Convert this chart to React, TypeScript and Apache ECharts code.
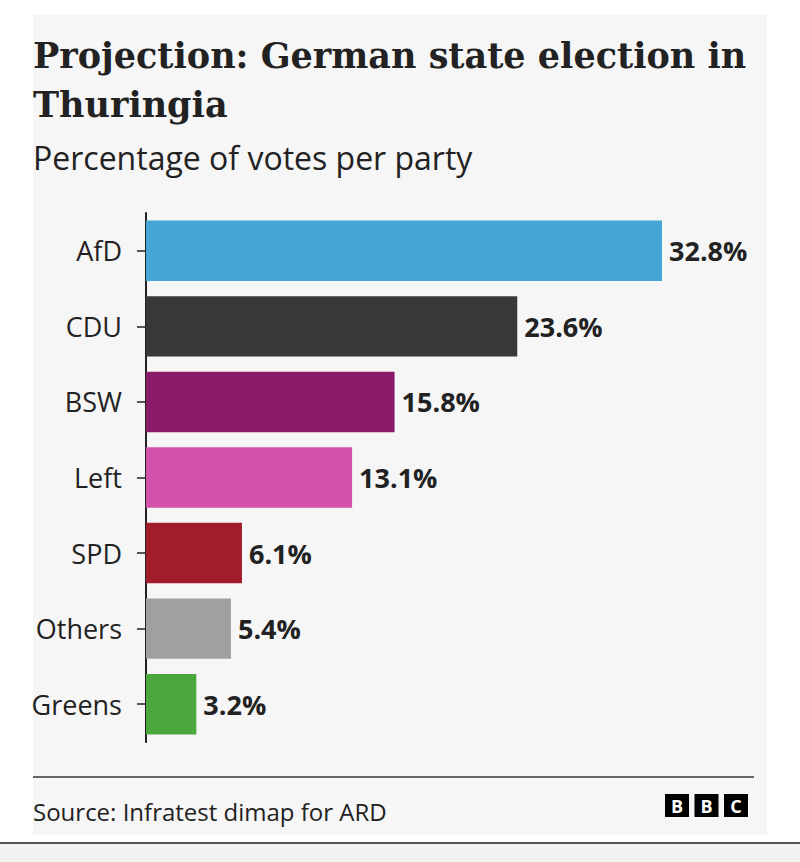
import React, { useEffect, useRef } from "react";
import * as echarts from "echarts";

const parties = ["AfD", "CDU", "BSW", "Left", "SPD", "Others", "Greens"];
const shares = [32.8, 23.6, 15.8, 13.1, 6.1, 5.4, 3.2];
const partyColors = ["#45a5d4", "#383838", "#8b1a6a", "#d253a9", "#a21d2c", "#a0a0a0", "#4aa83c"];

const titleText = "Projection: German state election in\nThuringia";
const subtitleText = "Percentage of votes per party";
const sourceText = "Source: Infratest dimap for ARD";
const logoLetters = ["B", "B", "C"];

const SANS = "'Open Sans', 'Noto Sans', sans-serif";
const SERIF = "'DejaVu Serif', serif";

export default function App() {
  const ref = useRef<HTMLDivElement>(null);
  useEffect(() => {
    if (!ref.current) return;
    const chart = echarts.init(ref.current, null, { renderer: "svg" });
    const logo: any[] = [];
    logoLetters.forEach((l, i) => {
      logo.push({
        type: "rect",
        shape: { x: 665 + i * 29.5, y: 794, width: 24, height: 23 },
        style: { fill: "#000" },
      });
      logo.push({
        type: "text",
        x: 665 + i * 29.5 + 12,
        y: 806,
        style: {
          text: l,
          fill: "#fff",
          font: `bold 18px ${SANS}`,
          textAlign: "center",
          textVerticalAlign: "middle",
        },
      });
    });
    chart.setOption({
      animation: false,
      backgroundColor: "#ffffff",
      title: [
        {
          text: titleText,
          left: 33,
          top: 31,
          padding: 0,
          textStyle: {
            fontFamily: SERIF,
            fontWeight: "bold",
            fontSize: 35,
            lineHeight: 49,
            color: "#222222",
          },
        },
        {
          text: subtitleText,
          left: 33,
          top: 139,
          padding: 0,
          textStyle: {
            fontFamily: SANS,
            fontWeight: "normal",
            fontSize: 32,
            lineHeight: 36,
            color: "#222222",
          },
        },
      ],
      graphic: [
        {
          type: "rect",
          z: -10,
          shape: { x: 33, y: 15, width: 734, height: 820 },
          style: { fill: "#f6f6f6" },
        },
        {
          type: "rect",
          z: -10,
          shape: { x: 0, y: 844, width: 800, height: 18 },
          style: { fill: "#f2f2f2" },
        },
        {
          type: "line",
          shape: { x1: 0, y1: 843, x2: 800, y2: 843 },
          style: { stroke: "#555555", lineWidth: 2 },
        },
        {
          type: "line",
          shape: { x1: 33, y1: 777, x2: 754, y2: 777 },
          style: { stroke: "#666666", lineWidth: 2 },
        },
        {
          type: "text",
          x: 33,
          y: 811,
          style: {
            text: sourceText,
            fill: "#222222",
            font: `24px ${SANS}`,
            textVerticalAlign: "middle",
          },
        },
        ...logo,
      ],
      grid: { left: 146, right: 138, top: 213, bottom: 120, containLabel: false },
      xAxis: { type: "value", min: 0, max: 32.8, show: false },
      yAxis: {
        type: "category",
        data: parties,
        inverse: true,
        axisLine: { show: true, lineStyle: { color: "#222222", width: 2 } },
        axisTick: { show: true, length: 9, alignWithLabel: true, lineStyle: { color: "#222222", width: 1.5 } },
        axisLabel: { margin: 24, fontSize: 27, color: "#222222", fontFamily: SANS },
      },
      series: [
        {
          type: "bar",
          data: shares.map((v, i) => ({ value: v, itemStyle: { color: partyColors[i] } })),
          barCategoryGap: "20%",
          label: {
            show: true,
            position: "right",
            distance: 7,
            formatter: "{c}%",
            fontSize: 27,
            fontWeight: "bold",
            color: "#222222",
            fontFamily: SANS,
          },
        },
      ],
    });
    return () => chart.dispose();
  }, []);
  return (
    <div
      ref={ref}
      style={{ position: "fixed", left: 0, top: 0, width: 800, height: 862 }}
    />
  );
}
